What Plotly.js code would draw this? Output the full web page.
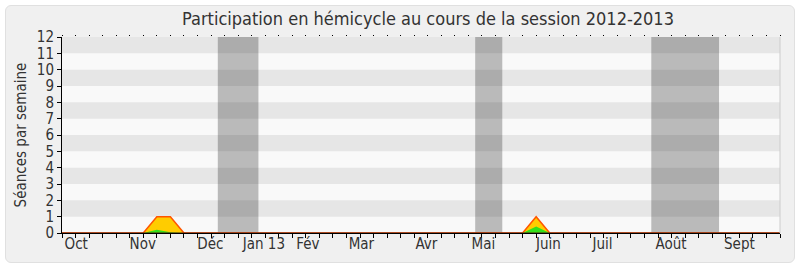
<!DOCTYPE html>
<html>
<head>
<meta charset="utf-8">
<script src="https://cdn.plot.ly/plotly-3.0.1.min.js"></script>
<style>
  html, body { margin: 0; padding: 0; background: #ffffff; }
  #frame {
    position: absolute; left: 5px; top: 5px; width: 788px; height: 256px;
    background: #f0f0f0; border: 1px solid #e0e0e0; border-radius: 6px;
  }
  #chart { position: absolute; left: 0; top: 0; width: 800px; height: 267px; }
</style>
</head>
<body>
<div id="frame"></div>
<div id="chart"></div>
<script>
// Week index of the 2012-2013 session (one point per week)
const weeks = [0,1,2,3,4,5,6,7,8,9,10,11,12,13,14,15,16,17,18,19,20,21,22,23,24,25,26,
               27,28,29,30,31,32,33,34,35,36,37,38,39,40,41,42,43,44,45,46,47,48,49,50,51,52,53];

// Weekly presence in the hemicycle (sessions per week)
const presence = [0,0,0,0,0,0,0,1,1,0,0,0,0,0,0,0,0,0,0,0,0,0,0,0,0,0,0,
                  0,0,0,0,0,0,0,0,1,0,0,0,0,0,0,0,0,0,0,0,0,0,0,0,0,0,0];

// Weekly participation (interventions) in the hemicycle
const participation = [0,0,0,0,0,0,0,0.2,0.05,0,0,0,0,0,0,0,0,0,0,0,0,0,0,0,0,0,0,
                       0,0,0,0,0,0,0,0,0.4,0,0,0,0,0,0,0,0,0,0,0,0,0,0,0,0,0,0];

// Parliamentary recess periods (start / end, in weeks)
const recessStart = [11.5, 30.5, 43.5];
const recessEnd   = [14.5, 32.5, 48.5];

// Month labels along the time axis
const monthLabels = ['Oct','Nov','Déc','Jan 13','Fév','Mar','Avr','Mai','Juin','Juil','Août','Sept'];
const monthWeeks  = [1.05, 5.96, 10.95, 14.9, 18.15, 22.1, 26.9, 31.1, 35.9, 39.9, 44.95, 50.0];

const yMax = 12;
const FONT = '"DejaVu Sans Condensed", "DejaVu Sans", sans-serif';

const shapes = [];
// alternating horizontal bands
for (let k = 1; k < yMax; k += 2) {
  shapes.push({
    type: 'rect', xref: 'paper', yref: 'y', x0: 0, x1: 1, y0: k, y1: k + 1,
    fillcolor: '#e6e6e6', line: { width: 0 }, layer: 'below'
  });
}
// recess periods
for (let i = 0; i < recessStart.length; i++) {
  shapes.push({
    type: 'rect', xref: 'x', yref: 'paper', x0: recessStart[i], x1: recessEnd[i], y0: 0, y1: 1,
    fillcolor: 'rgba(0,0,0,0.25)', line: { width: 0 }, layer: 'below'
  });
}
// right frame of the plotting area
shapes.push({
  type: 'line', xref: 'paper', yref: 'paper', x0: 1, x1: 1, y0: 0, y1: 1,
  line: { color: '#cccccc', width: 1 }
});

const traces = [
  {
    x: weeks, y: presence, type: 'scatter', mode: 'lines',
    fill: 'tozeroy', fillcolor: '#ffcc00',
    line: { color: '#ff5500', width: 1.5 },
    hoverinfo: 'skip'
  },
  {
    x: weeks, y: participation, type: 'scatter', mode: 'lines',
    fill: 'tozeroy', fillcolor: '#33e01a',
    line: { color: 'rgba(0,0,0,0)', width: 0 },
    hoverinfo: 'skip'
  },
  {
    // baseline drawn over the fills
    x: [weeks[0], weeks[weeks.length - 1]], y: [0, 0], type: 'scatter', mode: 'lines',
    line: { color: '#5a1a08', width: 1 },
    hoverinfo: 'skip'
  }
];

const layout = {
  width: 800, height: 267,
  margin: { l: 62, r: 20, t: 37, b: 34 },
  paper_bgcolor: 'rgba(0,0,0,0)',
  plot_bgcolor: '#f9f9f9',
  showlegend: false,
  font: { family: FONT, color: '#333333' },
  title: {
    text: 'Participation en hémicycle au cours de la session 2012-2013',
    font: { family: FONT, size: 18, color: '#333333' },
    xref: 'container', x: 0.535, xanchor: 'center',
    yref: 'container', y: 1 - 19 / 267, yanchor: 'middle'
  },
  xaxis: {
    range: [0, 53], tickmode: 'array', tickvals: weeks,
    ticks: 'outside', ticklen: 4, tickcolor: '#000000', tickwidth: 1,
    showticklabels: false, showline: true, linecolor: '#000000', linewidth: 1,
    showgrid: false, zeroline: false, fixedrange: true
  },
  xaxis2: {
    overlaying: 'x', anchor: 'y', side: 'bottom', range: [0, 53],
    tickmode: 'array', tickvals: monthWeeks, ticktext: monthLabels,
    ticks: '', showline: false, showgrid: false, zeroline: false,
    tickfont: { family: FONT, size: 15, color: '#333333' }
  },
  xaxis3: {
    overlaying: 'x', anchor: 'y', side: 'top', range: [0, 53],
    tickmode: 'array', tickvals: weeks,
    ticks: 'outside', ticklen: 1.5, tickcolor: '#000000', tickwidth: 1,
    showticklabels: false, showline: false, showgrid: false, zeroline: false
  },
  yaxis: {
    range: [0, yMax], tickmode: 'linear', tick0: 0, dtick: 1,
    ticks: 'outside', ticklen: 4, tickcolor: '#000000',
    showline: true, linecolor: '#000000', linewidth: 1,
    showgrid: false, zeroline: false, fixedrange: true,
    tickfont: { family: FONT, size: 15, color: '#333333' },
    title: { text: 'Séances par semaine', font: { family: FONT, size: 15, color: '#333333' }, standoff: 6 }
  },
  shapes: shapes
};

// an empty trace keeps the overlay axes drawn
traces.push({ x: [0], y: [0], xaxis: 'x2', mode: 'markers', marker: { opacity: 0 }, hoverinfo: 'skip' });
traces.push({ x: [0], y: [0], xaxis: 'x3', mode: 'markers', marker: { opacity: 0 }, hoverinfo: 'skip' });

Plotly.newPlot('chart', traces, layout, { staticPlot: true, displayModeBar: false });
</script>
</body>
</html>
